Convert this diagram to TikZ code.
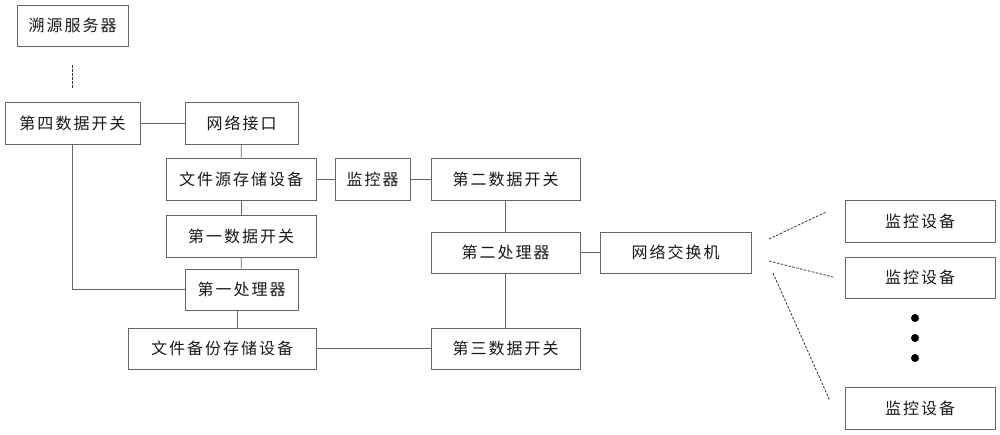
\documentclass[tikz,border=0pt]{standalone}
\usepackage{fontspec}
\newfontfamily\cjk[LetterSpace=12.5]{Noto Sans CJK SC}
\begin{document}
\begin{tikzpicture}[x=1pt,y=-1pt,
  box/.style={draw=black!60, line width=0.8pt, inner sep=0pt, font=\cjk\fontsize{16}{16}\selectfont, text=black!90},
  conn/.style={draw=black!60, line width=0.8pt},
  dline/.style={draw=black!80, line width=0.8pt, dash pattern=on 2.5pt off 1.5pt},
  dot/.style={circle, fill=black, inner sep=0pt, minimum size=8pt}]
\useasboundingbox[fill=white] (0,0) rectangle (1000,434);
\node[box, minimum width=111pt, minimum height=41pt] (src) at (72.5,25.5) {溯源服务器};
\node[box, minimum width=135pt, minimum height=42pt] (sw4) at (72.5,123) {第四数据开关};
\node[box, minimum width=113pt, minimum height=42pt] (nif) at (241.5,123) {网络接口};
\node[box, minimum width=150pt, minimum height=42pt] (fsrc) at (241,179) {文件源存储设备};
\node[box, minimum width=150pt, minimum height=42pt] (sw1) at (241,236) {第一数据开关};
\node[box, minimum width=113pt, minimum height=41pt] (p1) at (241.5,289.5) {第一处理器};
\node[box, minimum width=188pt, minimum height=41pt] (fbak) at (222,348.5) {文件备份存储设备};
\node[box, minimum width=75pt, minimum height=42pt] (mon) at (372.5,179) {监控器};
\node[box, minimum width=149pt, minimum height=42pt] (sw2) at (505.5,179) {第二数据开关};
\node[box, minimum width=149pt, minimum height=41pt] (p2) at (505.5,252.5) {第二处理器};
\node[box, minimum width=151pt, minimum height=41pt] (nsw) at (675.5,252.5) {网络交换机};
\node[box, minimum width=149pt, minimum height=41pt] (sw3) at (505.5,348.5) {第三数据开关};
\node[box, minimum width=150pt, minimum height=42pt] (md1) at (920,221) {监控设备};
\node[box, minimum width=150pt, minimum height=41pt] (md2) at (920,277.5) {监控设备};
\node[box, minimum width=150pt, minimum height=42pt] (md3) at (920,408) {监控设备};
\node[dot] (d1) at (915,318) {};
\node[dot] (d2) at (915,338) {};
\node[dot] (d3) at (915,358) {};
\draw[dline, shorten <=19pt, shorten >=14pt] (src) -- (sw4);
\draw[conn] (sw4) -- (nif);
\draw[conn] (nif) -- (fsrc);
\draw[conn] (fsrc) -- (mon);
\draw[conn] (mon) -- (sw2);
\draw[conn] (fsrc) -- (sw1);
\draw[conn] (sw1) -- (p1);
\draw[conn] (sw4.south) |- (p1.west);
\draw[conn] ([xshift=-4pt]p1.south) -- ([xshift=-4pt]p1.south |- fbak.north);
\draw[conn] (fbak) -- (sw3);
\draw[conn] (sw2) -- (p2);
\draw[conn] (p2) -- (sw3);
\draw[conn] (p2) -- (nsw);
\coordinate (a1) at (769,239); \coordinate (b1) at (826,212);
\coordinate (a2) at (769,261); \coordinate (b2) at (833,277);
\coordinate (a3) at (773,273); \coordinate (b3) at (830,401);
\draw[dline] (a1) -- (b1);
\draw[dline] (a2) -- (b2);
\draw[dline] (a3) -- (b3);
\end{tikzpicture}
\end{document}
